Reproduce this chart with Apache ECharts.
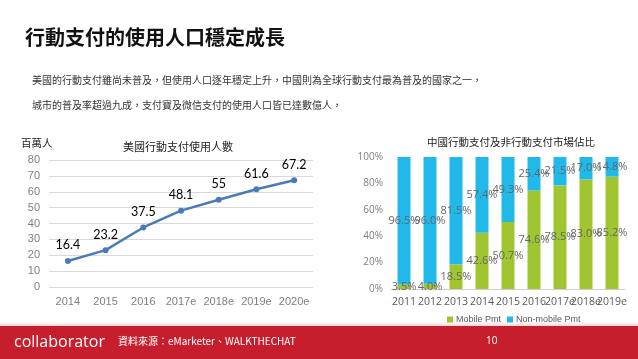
<!DOCTYPE html>
<html>
<head>
<meta charset="utf-8">
<script src="https://cdn.jsdelivr.net/npm/echarts@6/dist/echarts.min.js"></script>
<style>
html,body{margin:0;padding:0;background:#fff;}
#c{width:638px;height:359px;}
</style>
</head>
<body>
<div id="c"></div>
<script>
const usYears = ['2014','2015','2016','2017e','2018e','2019e','2020e'];
const usUsers = [16.4, 23.2, 37.5, 48.1, 55, 61.6, 67.2];
const cnYears = ['2011','2012','2013','2014','2015','2016','2017e','2018e','2019e'];
const cnMobile = [3.5, 4.0, 18.5, 42.6, 50.7, 74.6, 78.5, 83.0, 85.2];
const cnNonMobile = [96.5, 96.0, 81.5, 57.4, 49.3, 25.4, 21.5, 17.0, 14.8];

const CJK = '"Noto Sans CJK TC", "Noto Sans CJK SC", sans-serif';
const chart = echarts.init(document.getElementById('c'), null, {renderer: 'canvas'});

const pctLabel = {
  show: true, position: 'inside', color: '#666', fontSize: 11,
  fontFamily: '"Open Sans", sans-serif',
  formatter: p => p.value.toFixed(1) + '%'
};

chart.setOption({
  animation: false,
  backgroundColor: '#fff',
  title: [
    {text: '美國行動支付使用人數', left: 173, top: 136, textAlign: 'center',
     textStyle: {fontFamily: CJK, fontSize: 11, fontWeight: 'normal', color: '#222'}},
    {text: '中國行動支付及非行動支付市場佔比', left: 506, top: 132, textAlign: 'center',
     textStyle: {fontFamily: CJK, fontSize: 10.5, fontWeight: 'normal', color: '#222'}}
  ],
  legend: {
    data: ['Mobile Pmt', 'Non-mobile Pmt'], left: 442, top: 310,
    itemWidth: 6, itemHeight: 6, itemGap: 6, icon: 'rect',
    textStyle: {fontSize: 9, color: '#595959', fontFamily: '"Liberation Sans", Arial, sans-serif', padding: [0,0,0,-2]}
  },
  grid: [
    {left: 49, top: 160, width: 264, height: 127},
    {left: 391, top: 157, width: 234, height: 132}
  ],
  xAxis: [
    {type: 'category', gridIndex: 0, data: usYears, boundaryGap: true,
     axisLine: {show: false}, axisTick: {show: false},
     axisLabel: {color: '#7f7f7f', fontSize: 11, margin: 9, interval: 0, fontFamily: '"Liberation Sans", Arial, sans-serif'}},
    {type: 'category', gridIndex: 1, data: cnYears,
     axisLine: {show: true, lineStyle: {color: '#d0d0d0'}}, axisTick: {show: false},
     axisLabel: {color: '#595959', fontSize: 10.5, margin: 8, interval: 0, fontFamily: '"Open Sans", sans-serif'}}
  ],
  yAxis: [
    {type: 'value', gridIndex: 0, min: 0, max: 80, interval: 10,
     axisLine: {show: false}, axisTick: {show: false},
     splitLine: {lineStyle: {color: '#d9d9d9'}},
     axisLabel: {color: '#7f7f7f', fontSize: 11, margin: 9, fontFamily: '"Liberation Sans", Arial, sans-serif'}},
    {type: 'value', gridIndex: 1, min: 0, max: 100, interval: 20,
     axisLine: {show: false}, axisTick: {show: false}, splitLine: {show: false},
     axisLabel: {color: '#7f7f7f', fontSize: 10, margin: 8, formatter: '{value}%', fontFamily: '"Open Sans", sans-serif'}}
  ],
  series: [
    {type: 'line', xAxisIndex: 0, yAxisIndex: 0, data: usUsers,
     symbol: 'circle', symbolSize: 6,
     lineStyle: {color: '#4a7bb7', width: 2.5}, itemStyle: {color: '#4a7bb7'},
     label: {show: true, position: 'top', distance: 6, color: '#000', fontSize: 12.5,
             fontFamily: 'Lato, "Open Sans", sans-serif'}},
    {name: 'Mobile Pmt', type: 'bar', xAxisIndex: 1, yAxisIndex: 1, stack: 'cn',
     data: cnMobile, barWidth: 13, itemStyle: {color: '#a0c530'}, label: pctLabel},
    {name: 'Non-mobile Pmt', type: 'bar', xAxisIndex: 1, yAxisIndex: 1, stack: 'cn',
     data: cnNonMobile, barWidth: 13, itemStyle: {color: '#21b9ea'}, label: pctLabel}
  ],
  graphic: [
    {type: 'text', left: 25, top: 27, style: {text: '行動支付的使用人口穩定成長',
      font: 'bold 20px ' + CJK, fill: '#111'}},
    {type: 'text', left: 32, top: 75, style: {text: '美國的行動支付雖尚未普及，但使用人口逐年穩定上升，中國則為全球行動支付最為普及的國家之一，',
      font: '10px ' + CJK, fill: '#333'}},
    {type: 'text', left: 32, top: 100, style: {text: '城市的普及率超過九成，支付寶及微信支付的使用人口皆已達數億人，',
      font: '10px ' + CJK, fill: '#333'}},
    {type: 'text', left: 21, top: 138, style: {text: '百萬人', font: '10.5px ' + CJK, fill: '#222'}},
    {type: 'rect', shape: {x: 0, y: 322, width: 638, height: 5},
     style: {fill: {type: 'linear', x: 0, y: 0, x2: 0, y2: 1,
       colorStops: [{offset: 0, color: '#ffffff'}, {offset: 1, color: '#f2c7cb'}]}}},
    {type: 'rect', shape: {x: 0, y: 326, width: 638, height: 33}, style: {fill: '#c61e2d'}},
    {type: 'text', left: 14, top: 334, style: {text: 'collaborator',
      font: '16px "Open Sans", Lato, sans-serif', fill: '#fff'}},
    {type: 'text', left: 118, top: 336, style: {text: '資料來源：eMarketer、WALKTHECHAT',
      font: '10px ' + CJK, fill: '#fff'}},
    {type: 'text', left: 486, top: 336, style: {text: '10',
      font: '10px "Open Sans", sans-serif', fill: '#fff'}}
  ]
});
</script>
</body>
</html>
